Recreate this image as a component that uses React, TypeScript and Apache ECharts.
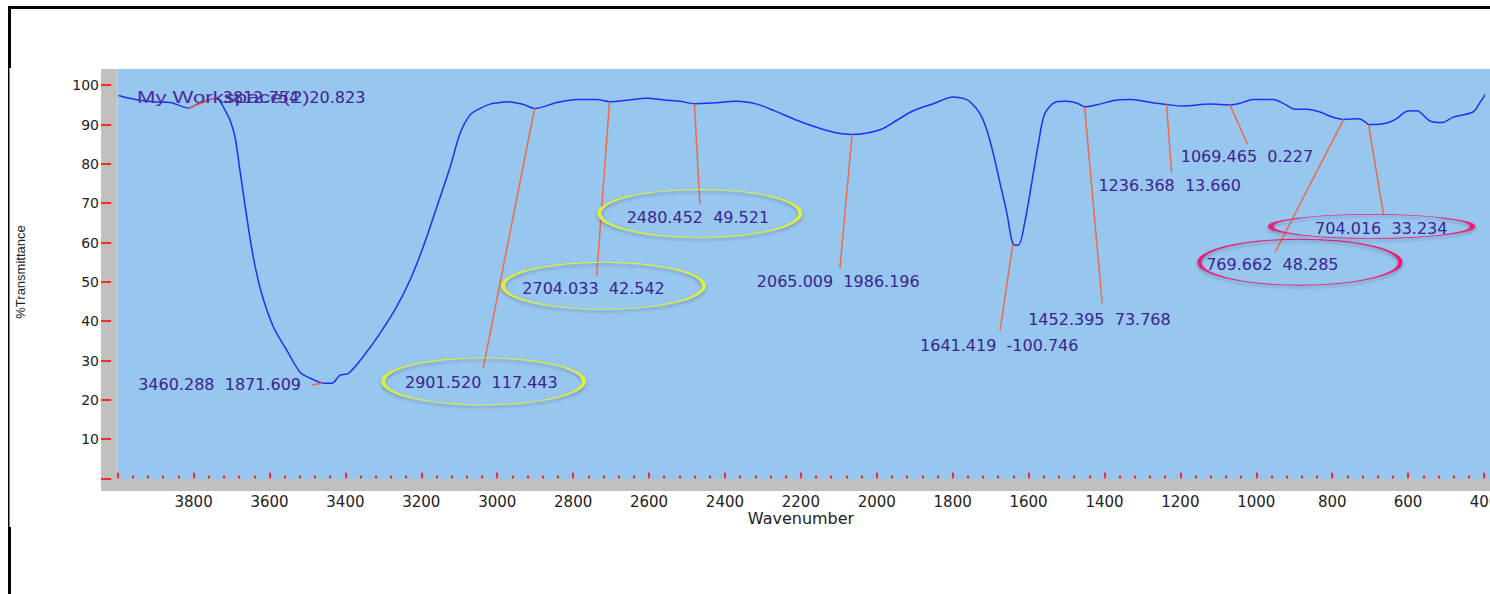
import React, { useEffect, useRef } from "react";
import * as echarts from "echarts";

// ---- spectrum (wavenumber cm-1, %T) ----
const wavenumbers = [
  3998, 3954, 3906, 3862, 3812, 3792, 3757, 3739, 3717, 3704, 3691, 3678, 3660, 3643, 3621, 3590,
  3555, 3520, 3493, 3460, 3436, 3414, 3392, 3353, 3309, 3265, 3230, 3195, 3159, 3124, 3098, 3072,
  3045, 3019, 3001, 2971, 2931, 2901, 2843, 2790, 2738, 2704, 2659, 2606, 2553, 2518, 2480, 2431,
  2369, 2316, 2272, 2211, 2149, 2097, 2065, 1991, 1947, 1904, 1851, 1798, 1770, 1754, 1728, 1710,
  1693, 1675, 1657, 1641, 1627, 1609, 1592, 1574, 1557, 1526, 1499, 1469, 1452, 1412, 1372, 1332,
  1289, 1236, 1192, 1122, 1069, 1043, 1008, 955, 929, 898, 867, 832, 805, 769, 731, 713, 704, 691,
  656, 630, 603, 577, 542, 511, 481, 429, 412, 390,
];
const transmittance = [
  97.4, 96.4, 95.8, 95.6, 94.2, 95.1, 96.4, 96.6, 93.6, 91.1, 86.9, 78.4, 66.5, 56.4, 47.1, 38.6,
  32.7, 27.1, 25.5, 24.3, 24.2, 26.3, 26.7, 31.0, 36.9, 43.7, 50.4, 58.9, 69.1, 79.2, 87.7, 92.4,
  94.1, 95.2, 95.5, 95.8, 95.1, 94.1, 95.6, 96.4, 96.4, 95.8, 96.2, 96.7, 96.2, 95.9, 95.3, 95.5,
  95.9, 95.2, 93.6, 91.1, 89.0, 87.7, 87.5, 88.7, 91.1, 93.5, 95.3, 97.0, 96.6, 95.8, 92.8, 88.6,
  82.6, 75.0, 67.4, 59.6, 59.3, 65.7, 75.0, 85.2, 92.8, 95.8, 95.9, 95.3, 94.5, 95.2, 96.2, 96.4,
  95.8, 95.1, 94.7, 95.2, 95.0, 95.4, 96.4, 96.4, 95.4, 93.9, 93.9, 93.2, 92.1, 91.3, 91.5, 90.7, 90.0, 90.0,
  90.4, 91.5, 93.4, 93.5, 90.9, 90.5, 91.9, 93.2, 95.4, 98.7,
];

// ---- peak annotations ----
const peakTexts = [
  "3812.754  20.823",
  "3460.288  1871.609",
  "2901.520  117.443",
  "2704.033  42.542",
  "2480.452  49.521",
  "2065.009  1986.196",
  "1641.419  -100.746",
  "1452.395  73.768",
  "1236.368  13.660",
  "1069.465  0.227",
  "769.662  48.285",
  "704.016  33.234",
];
// point on the curve each leader line starts from
const peakWavenumbers = [3812.754, 3460.288, 2901.52, 2704.033, 2480.452, 2065.009, 1641.419, 1452.395, 1236.368, 1069.465, 769.662, 704.016];
const peakCurveT = [94.2, 24.3, 94.1, 95.8, 95.3, 87.5, 59.6, 94.5, 95.1, 95.0, 91.3, 90.0];
// end of each leader line (data units)
const leaderEndW = [3738, 3489, 3037, 2738, 2466, 2097, 1675, 1406, 1223, 1023, 950, 665];
const leaderEndT = [96.9, 23.8, 28.0, 51.5, 69.8, 53.5, 37.7, 44.6, 77.7, 85.0, 57.6, 67.2];
// left end of each text label (data units)
const textW = [3723, 3946, 3243, 2934, 2659, 2316, 1886, 1601, 1416, 1199, 1132, 845];
const textT = [97.0, 23.8, 24.4, 48.3, 66.3, 50.2, 33.7, 40.5, 74.4, 81.8, 54.5, 63.6];
// highlight ellipses (centre in data units)
const ellipseW = [3036, 2720, 2466, 885, 696];
const ellipseT = [24.7, 49.0, 67.4, 55.0, 64.1];
const ellipseKinds = ["green", "green", "green", "pink", "pink"];

const xTickLabels = [3800, 3600, 3400, 3200, 3000, 2800, 2600, 2400, 2200, 2000, 1800, 1600, 1400, 1200, 1000, 800, 600, 400];
const yTickValues = [0, 10, 20, 30, 40, 50, 60, 70, 80, 90, 100];
const yLabelValues = [10, 20, 30, 40, 50, 60, 70, 80, 90, 100];

const ellipseSizes: Record<number, [number, number]> = {
  0: [201, 47],
  1: [201, 47],
  2: [201, 48],
  3: [201, 46],
  4: [202, 24],
};
const ellipseColors: Record<string, string> = { green: "#dcef3a", pink: "#ee1f78" };
const ELLIPSE = "path://M0,50 A100,50 0 1,0 200,50 A100,50 0 1,0 0,50 Z";

const LABEL_COLOR = "#3b2490";
const TICK_RED = "#ff2a2a";

export default function App() {
  const ref = useRef<HTMLDivElement>(null);

  useEffect(() => {
    if (!ref.current) return;
    const chart = echarts.init(ref.current, undefined, { renderer: "svg" });

    const spectrum = wavenumbers.map((w, i) => [w, transmittance[i]]);
    const leaders = peakWavenumbers.map((w, i) => [
      { coord: [w, peakCurveT[i]] },
      { coord: [leaderEndW[i], leaderEndT[i]] },
    ]);
    const textPoints = peakTexts.map((t, i) => ({
      name: t,
      coord: [textW[i], textT[i]],
      symbol: "circle",
      symbolSize: 0,
      itemStyle: { color: "rgba(0,0,0,0)" },
      label: {
        show: true,
        position: "right",
        distance: 0,
        formatter: "{b}",
        color: LABEL_COLOR,
        fontFamily: "DejaVu Sans",
        fontSize: 16,
      },
    }));
    const ellipses = ellipseW.map((w, i) => ({
      name: "e" + i,
      coord: [w, ellipseT[i]],
      symbol: ELLIPSE,
      symbolSize: ellipseSizes[i],
      itemStyle: {
        color: "rgba(0,0,0,0)",
        borderColor: ellipseColors[ellipseKinds[i]],
        borderWidth: 2,
        shadowColor: "rgba(40,40,60,0.35)",
        shadowBlur: 3,
        shadowOffsetY: 2,
      },
      label: { show: false },
    }));

    chart.setOption({
      animation: false,
      backgroundColor: "#ffffff",
      grid: {
        left: 117.7,
        right: 6,
        top: 69.5,
        bottom: 115.5,
        show: false,
        containLabel: false,
        outerBoundsMode: "none",
      },
      xAxis: {
        type: "value",
        inverse: true,
        min: 400,
        max: 4000,
        interval: 200,
        offset: 11,
        axisLine: { show: false },
        splitLine: { show: false },
        axisTick: { show: true, inside: true, length: 6, lineStyle: { color: TICK_RED, width: 2 } },
        minorTick: { show: true, splitNumber: 5, length: 3, lineStyle: { color: TICK_RED, width: 2 } },
        axisLabel: {
          show: true,
          margin: 5,
          color: "#222",
          fontFamily: "DejaVu Sans",
          fontSize: 15,
          customValues: xTickLabels,
          formatter: (v: number) => String(v),
          hideOverlap: false,
        },
      },
      yAxis: {
        type: "value",
        min: 0,
        max: 104,
        interval: 10,
        offset: 6.7,
        axisLine: { show: false },
        splitLine: { show: false },
        axisTick: { show: true, length: 10, customValues: yTickValues, lineStyle: { color: TICK_RED, width: 2 } },
        axisLabel: {
          show: true,
          margin: 12,
          color: "#222",
          fontFamily: "DejaVu Sans",
          fontSize: 14,
          customValues: yLabelValues,
          formatter: (v: number) => String(v),
        },
      },
      graphic: [
        { type: "rect", z: -5, shape: { x: 117.7, y: 69, width: 1372.3, height: 410 }, style: { fill: "#97c6ee" } },
        { type: "rect", z: -5, shape: { x: 101, y: 69, width: 16.7, height: 422 }, style: { fill: "#c0c0c0" } },
        { type: "rect", z: -5, shape: { x: 101, y: 479, width: 1389, height: 12 }, style: { fill: "#c0c0c0" } },
        { type: "rect", z: 10, shape: { x: 8, y: 6, width: 1482, height: 3 }, style: { fill: "#000" } },
        { type: "rect", z: 10, shape: { x: 8, y: 6, width: 3, height: 62 }, style: { fill: "#000" } },
        { type: "rect", z: 10, shape: { x: 8, y: 68, width: 1.5, height: 459 }, style: { fill: "#000" } },
        { type: "rect", z: 10, shape: { x: 8, y: 527, width: 3, height: 67 }, style: { fill: "#000" } },
        {
          type: "text",
          z: 10,
          x: 137,
          y: 97,
          scaleX: 1.3,
          style: {
            text: "My Workspace(2)",
            fill: "#4a2c9c",
            font: '17px "Liberation Sans"',
            verticalAlign: "middle",
            align: "left",
          },
        },
        {
          type: "text",
          z: 10,
          x: 801,
          y: 518,
          style: {
            text: "Wavenumber",
            fill: "#222",
            font: '16px "DejaVu Sans"',
            align: "center",
            verticalAlign: "middle",
          },
        },
        {
          type: "text",
          z: 10,
          x: 20,
          y: 272,
          rotation: Math.PI / 2,
          style: {
            text: "%Transmittance",
            fill: "#222",
            font: '13px "Liberation Sans"',
            align: "center",
            verticalAlign: "middle",
          },
        },
      ],
      series: [
        {
          type: "line",
          name: "spectrum",
          data: spectrum,
          showSymbol: false,
          symbol: "none",
          clip: false,
          smooth: 0.3,
          lineStyle: { color: "#1f30f5", width: 1.5 },
          markLine: {
            silent: true,
            symbol: ["none", "none"],
            label: { show: false },
            lineStyle: { color: "#ec6a4a", width: 1.5, type: "solid" },
            data: leaders,
          },
          markPoint: {
            silent: true,
            data: [...ellipses, ...textPoints],
          },
        },
      ],
    });

    return () => chart.dispose();
  }, []);

  return (
    <div
      ref={ref}
      style={{ position: "absolute", left: 0, top: 0, width: 1490, height: 594, background: "#fff" }}
    />
  );
}
